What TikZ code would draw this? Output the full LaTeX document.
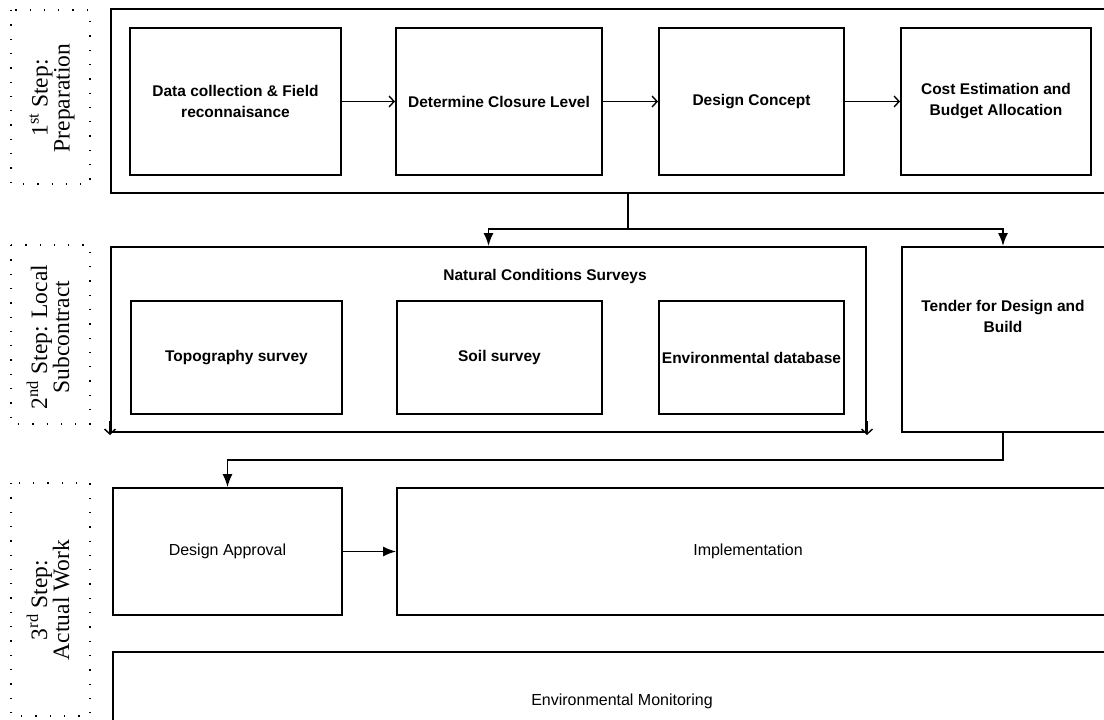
\documentclass[tikz,border=0pt]{standalone}
\usepackage{fontspec}
\setmainfont{Liberation Serif}
\setsansfont{Liberation Sans}
\usetikzlibrary{arrows.meta}
\begin{document}
\begin{tikzpicture}[x=1pt,y=-1pt,
  frame/.style={draw, line width=2pt, inner sep=0pt},
  stepbox/.style={draw, line width=2pt, inner sep=0pt, align=center,
    font=\sffamily\bfseries\fontsize{15.5}{21}\selectfont},
  plainbox/.style={draw, line width=1.7pt, inner sep=0pt, align=center,
    font=\sffamily\fontsize{16}{20}\selectfont},
  boldtext/.style={inner sep=0pt, align=center,
    font=\sffamily\bfseries\fontsize{15.5}{21}\selectfont},
  plaintext/.style={inner sep=0pt, font=\sffamily\fontsize{16}{20}\selectfont},
  flow/.style={line width=1.5pt, -{Straight Barb[length=5pt,width=11pt,line width=1.4pt]}},
  feed/.style={line width=1.6pt, -{Latex[length=13pt,width=10pt]}},
  phase/.style={font=\fontsize{23.5}{22}\selectfont, align=center, rotate=90, inner sep=0pt},
  scan/.style={line width=1.3pt, dash pattern=on 1.3pt off 13pt}
]
\useasboundingbox (0,0) rectangle (1104,720);
\clip (0,0) rectangle (1104,720);

% phase labels with their dotted text-box borders
\draw[scan] (11,10) rectangle (90,184);
\draw[scan] (11,245) rectangle (90,424);
\draw[scan] (11,483) rectangle (90,716);
\node[phase] (p1) at (52,98) {1\textsuperscript{st} Step:\\Preparation};
\node[phase] (p2) at (48,337) {2\textsuperscript{nd} Step: Local\\Subcontract};
\node[phase] (p3) at (48,600) {3\textsuperscript{rd} Step:\\Actual Work};

% 1st step: preparation
\node[frame, minimum width=1009, minimum height=184] (prep) at (615.5,101) {};
\node[stepbox, minimum width=211, minimum height=147] (b1) at (235.5,101.5) {Data collection \& Field\\reconnaisance};
\node[stepbox, minimum width=206, minimum height=147] (b2) at (499,101.5) {Determine Closure Level};
\node[stepbox, minimum width=185, minimum height=147] (b3) at (751.5,101.5) {Design Concept};
\node[stepbox, minimum width=190, minimum height=147] (b4) at (996,101.5) {Cost Estimation and\\Budget Allocation};
\draw[flow] (b1) -- (b2);
\draw[flow] (b2) -- (b3);
\draw[flow] (b3) -- (b4);

% 2nd step: local subcontract
\node[frame, minimum width=755, minimum height=185] (ncs) at (488.5,339.5) {};
\node[boldtext] (ncstitle) at (545,276) {Natural Conditions Surveys};
\node[stepbox, minimum width=211, minimum height=113] (topo) at (236.5,357.5) {Topography survey};
\node[stepbox, minimum width=205, minimum height=113] (soil) at (499.5,357.5) {Soil survey};
\node[stepbox, minimum width=185, minimum height=113] (envdb) at (751.5,357.5) {Environmental database};
\node[frame, minimum width=218, minimum height=185] (tender) at (1011,339.5) {};
\node[boldtext] (tendertxt) at (1003,316) {Tender for Design and\\Build};
\draw[line width=1.4pt, -{Straight Barb[length=5pt,width=11pt,line width=1.4pt]}]
  ([yshift=12pt]ncs.south west) -- ([yshift=-2pt]ncs.south west);
\draw[line width=1.4pt, -{Straight Barb[length=5pt,width=11pt,line width=1.4pt]}]
  ([yshift=12pt]ncs.south east) -- ([yshift=-2pt]ncs.south east);

\coordinate (split) at (628,229);
\draw[line width=1.6pt] (prep.south -| split) -- (split);
\draw[feed] (split) -| (ncs.north);
\draw[feed] (split) -| (tendertxt |- tender.north);

% 3rd step: actual work
\node[plainbox, minimum width=229, minimum height=127] (appr) at (227.5,551.5) {Design Approval};
\node[plainbox, minimum width=740, minimum height=127] (impl) at (767,551.5) {};
\node[plaintext] (impltxt) at (748,551.5) {Implementation};
\node[plainbox, minimum width=1018, minimum height=98] (mon) at (622,701) {Environmental Monitoring};
\draw[feed] (tendertxt |- tender.south) -- ++(0,27) -| (appr.north);
\draw[feed] (appr) -- (impl);
\end{tikzpicture}
\end{document}
